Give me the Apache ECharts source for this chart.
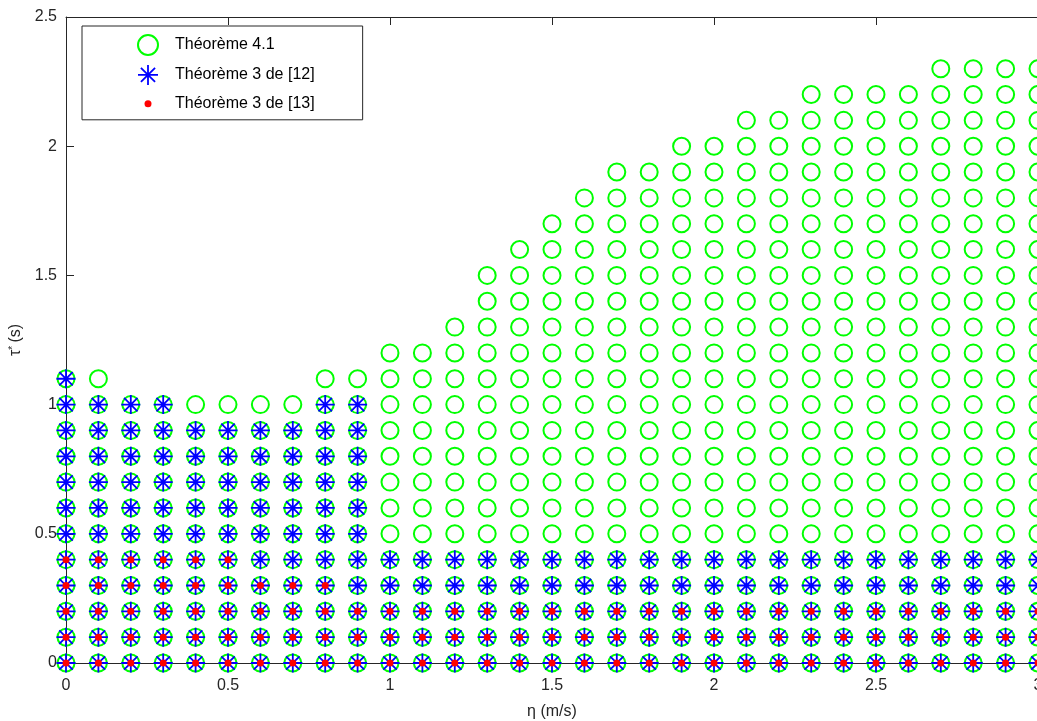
<!DOCTYPE html>
<html>
<head>
<meta charset="utf-8">
<script src="https://cdn.jsdelivr.net/npm/echarts@6/dist/echarts.min.js"></script>
<style>
  html, body { margin: 0; padding: 0; background: #fff; }
  #chart { width: 1037px; height: 721px; }
</style>
</head>
<body>
<div id="chart"></div>
<script>
// Vehicle speed values (m/s) tested along the horizontal axis
const etaValues = [0, 0.1, 0.2, 0.3, 0.4, 0.5, 0.6, 0.7, 0.8, 0.9,
                   1.0, 1.1, 1.2, 1.3, 1.4, 1.5, 1.6, 1.7, 1.8, 1.9,
                   2.0, 2.1, 2.2, 2.3, 2.4, 2.5, 2.6, 2.7, 2.8, 2.9, 3.0];
// Delay values (s) tested for every speed
const tauGrid = [0, 0.1, 0.2, 0.3, 0.4, 0.5, 0.6, 0.7, 0.8, 0.9, 1.0, 1.1,
                 1.2, 1.3, 1.4, 1.5, 1.6, 1.7, 1.8, 1.9, 2.0, 2.1, 2.2, 2.3];
// Largest delay certified feasible by each criterion, per speed
const tauMaxThm41 = [1.1, 1.1, 1.0, 1.0, 1.0, 1.0, 1.0, 1.0, 1.1, 1.1,
                     1.2, 1.2, 1.3, 1.5, 1.6, 1.7, 1.8, 1.9, 1.9, 2.0,
                     2.0, 2.1, 2.1, 2.2, 2.2, 2.2, 2.2, 2.3, 2.3, 2.3, 2.3];
const tauMaxRef12 = [1.1, 1.0, 1.0, 1.0, 0.9, 0.9, 0.9, 0.9, 1.0, 1.0,
                     0.4, 0.4, 0.4, 0.4, 0.4, 0.4, 0.4, 0.4, 0.4, 0.4,
                     0.4, 0.4, 0.4, 0.4, 0.4, 0.4, 0.4, 0.4, 0.4, 0.4, 0.4];
const tauMaxRef13 = [0.4, 0.4, 0.4, 0.4, 0.4, 0.4, 0.3, 0.3, 0.3, 0.2,
                     0.2, 0.2, 0.2, 0.2, 0.2, 0.2, 0.2, 0.2, 0.2, 0.2,
                     0.2, 0.2, 0.2, 0.2, 0.2, 0.2, 0.2, 0.2, 0.2, 0.2, 0.2];
const xTicks = ['0', '0.5', '1', '1.5', '2', '2.5', '3'];
const yTicks = ['0', '0.5', '1', '1.5', '2', '2.5'];
const seriesNames = ['Théorème 4.1', 'Théorème 3 de [12]', 'Théorème 3 de [13]'];

// Every (eta, tau) grid point up to the feasible bound of one criterion
function feasiblePoints(tauMax) {
  const pts = [];
  etaValues.forEach((eta, i) => {
    tauGrid.forEach(tau => {
      if (tau <= tauMax[i] + 1e-9) pts.push([eta, tau]);
    });
  });
  return pts;
}

const FONT = '"Liberation Sans", Arial, Helvetica, sans-serif';
const AXIS = '#262626';
const ASTERISK = 'path://M0,-10L0,10M-10,0L10,0M-7.07,-7.07L7.07,7.07M-7.07,7.07L7.07,-7.07';
// small dot inside an invisible 20x20 box so the legend icon stays small
const DOT_ICON = 'path://M-10,-10M10,10M-3.5,0A3.5,3.5,0,1,0,3.5,0A3.5,3.5,0,1,0,-3.5,0Z';

const chart = echarts.init(document.getElementById('chart'), null, { renderer: 'canvas' });

const axisLabelFmt = list => v => {
  const s = String(Math.round(v * 10) / 10);
  return list.includes(s) ? s : '';
};

chart.setOption({
  animation: false,
  backgroundColor: '#ffffff',
  textStyle: { fontFamily: FONT },
  grid: { left: 66, top: 17, width: 972, height: 646, containLabel: false, outerBoundsMode: 'none' },
  xAxis: [{
    type: 'value', position: 'bottom', min: 0, max: 3, interval: 0.5,
    name: 'η (m/s)', nameLocation: 'middle', nameGap: 41,
    nameTextStyle: { color: AXIS, fontSize: 16, fontFamily: FONT },
    axisLine: { show: true, onZero: false, lineStyle: { color: AXIS, width: 1 } },
    axisTick: { show: true, inside: true, length: 8, lineStyle: { color: AXIS } },
    axisLabel: { color: AXIS, fontSize: 16, margin: 15, fontFamily: FONT, hideOverlap: false,
                 formatter: axisLabelFmt(xTicks) },
    splitLine: { show: false }
  }, {
    type: 'value', position: 'top', min: 0, max: 3, interval: 0.5,
    axisLine: { show: true, onZero: false, lineStyle: { color: AXIS, width: 1 } },
    axisTick: { show: true, inside: true, length: 8, lineStyle: { color: AXIS } },
    axisLabel: { show: false },
    splitLine: { show: false }
  }],
  yAxis: [{
    type: 'value', position: 'left', min: 0, max: 2.5, interval: 0.5,
    name: '{t|τ}{s|*} {t|(s)}', nameLocation: 'middle', nameGap: 35, nameRotate: 90,
    nameTextStyle: {
      color: AXIS, fontFamily: FONT,
      rich: {
        t: { fontSize: 16, color: AXIS, fontFamily: FONT },
        s: { fontSize: 10, color: AXIS, fontFamily: FONT, verticalAlign: 'top', padding: [0, 0, 6, 0] }
      }
    },
    axisLine: { show: true, onZero: false, lineStyle: { color: AXIS, width: 1 } },
    axisTick: { show: true, inside: true, length: 8, lineStyle: { color: AXIS } },
    axisLabel: { color: AXIS, fontSize: 16, margin: 9, fontFamily: FONT, formatter: axisLabelFmt(yTicks) },
    splitLine: { show: false }
  }],
  legend: {
    orient: 'vertical', left: 82, top: 26,
    padding: [8, 48, 6, 55], itemGap: 8, itemWidth: 44, itemHeight: 20,
    symbolKeepAspect: true,
    backgroundColor: '#ffffff', borderColor: AXIS, borderWidth: 1, borderRadius: 0,
    textStyle: { fontSize: 16, color: '#000000', fontFamily: FONT },
    data: [
      { name: seriesNames[0], icon: 'circle',
        itemStyle: { color: 'transparent', borderColor: '#00ff00', borderWidth: 2 } },
      { name: seriesNames[1], icon: ASTERISK,
        itemStyle: { color: 'transparent', borderColor: '#0000ff', borderWidth: 1.8 } },
      { name: seriesNames[2], icon: DOT_ICON,
        itemStyle: { color: '#ff0000', borderWidth: 0 } }
    ]
  },
  series: [{
    name: seriesNames[0], type: 'scatter', xAxisIndex: 0, yAxisIndex: 0,
    symbol: 'circle', symbolSize: 17,
    itemStyle: { color: 'transparent', borderColor: '#00ff00', borderWidth: 2, opacity: 1 },
    emphasis: { disabled: true },
    data: feasiblePoints(tauMaxThm41), z: 3
  }, {
    name: seriesNames[1], type: 'scatter', xAxisIndex: 0, yAxisIndex: 0,
    symbol: ASTERISK, symbolSize: 19,
    itemStyle: { color: 'transparent', borderColor: '#0000ff', borderWidth: 1.8, opacity: 1 },
    emphasis: { disabled: true },
    data: feasiblePoints(tauMaxRef12), z: 4
  }, {
    name: seriesNames[2], type: 'scatter', xAxisIndex: 0, yAxisIndex: 0,
    symbol: 'circle', symbolSize: 7,
    itemStyle: { color: '#ff0000', borderWidth: 0, opacity: 1 },
    emphasis: { disabled: true },
    data: feasiblePoints(tauMaxRef13), z: 5
  }]
});
</script>
</body>
</html>
